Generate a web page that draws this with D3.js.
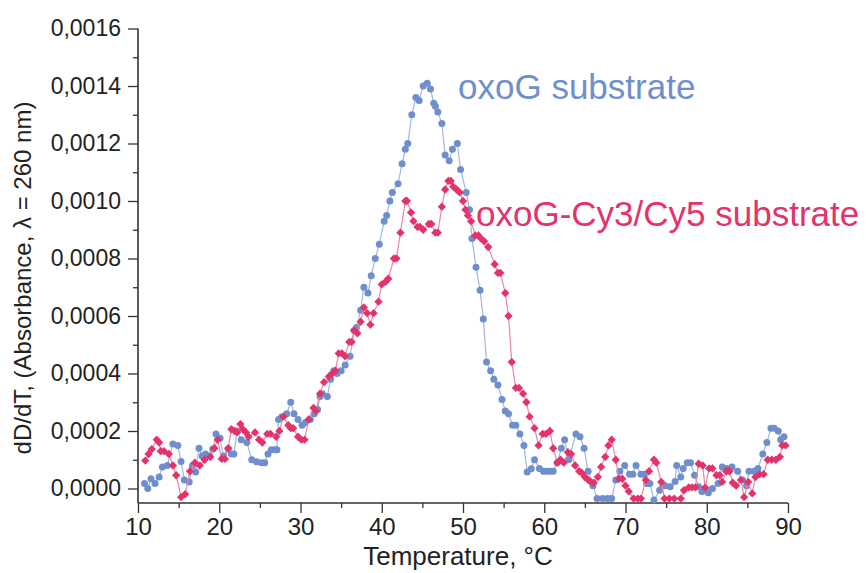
<!DOCTYPE html>
<html><head><meta charset="utf-8">
<script src="https://cdn.jsdelivr.net/npm/d3@7"></script>
<style>
html,body{margin:0;padding:0;background:#fff;}
svg text{font-family:"Liberation Sans",Arial,sans-serif;}
</style></head>
<body><svg id="chart" width="866" height="573"></svg>
<script>
// ---- data ----
const xTicks = [10,20,30,40,50,60,70,80,90];
const yTicks = [0,0.0002,0.0004,0.0006,0.0008,0.0010,0.0012,0.0014,0.0016];
const seriesNames = ["oxoG substrate","oxoG-Cy3/Cy5 substrate"];

const blueT = [10.8,11.2,11.6,12.1,12.6,13.0,13.6,14.3,14.9,15.3,15.7,16.3,16.7,17.1,17.5,17.9,18.3,18.8,19.2,19.6,20.1,20.5,21.1,21.5,21.8,22.2,22.7,23.4,24.0,24.6,25.2,25.6,26.0,26.4,26.8,27.1,27.3,27.7,28.3,28.8,29.2,29.7,30.2,30.6,31.2,31.7,32.1,32.4,32.7,33.3,33.7,34.1,34.5,35.0,35.5,36.1,36.6,36.9,37.4,37.8,38.3,38.7,39.2,39.7,40.3,40.6,41.0,41.3,42.0,42.5,42.9,43.2,43.7,44.2,44.6,45.1,45.6,46.0,46.4,46.6,46.9,47.4,47.8,48.3,48.7,49.3,49.7,50.4,50.8,51.1,51.6,52.1,52.5,52.9,53.4,53.8,54.3,54.8,55.2,55.6,56.1,56.5,57.0,57.5,57.9,58.4,58.8,59.4,59.9,60.3,60.7,61.1,61.6,62.1,62.5,63.0,63.9,64.4,64.9,65.4,66.0,66.5,67.2,67.8,68.3,68.8,69.3,69.9,70.5,70.9,71.3,71.9,72.3,72.6,73.0,73.5,74.2,74.6,74.9,75.5,76.1,76.3,76.8,77.1,77.6,78.0,78.5,79.0,79.4,79.8,80.2,80.7,81.4,81.9,82.5,83.1,83.8,84.4,84.9,85.2,85.8,86.3,86.9,87.4,87.9,88.3,88.8,89.1,89.5];
const blueV = [0.000017,0.000000,0.000034,0.000017,0.000040,0.000075,0.000080,0.000155,0.000150,0.000094,0.000030,0.000023,0.000080,0.000057,0.000140,0.000113,0.000120,0.000113,0.000137,0.000190,0.000175,0.000113,0.000137,0.000120,0.000120,0.000200,0.000170,0.000160,0.000100,0.000093,0.000090,0.000090,0.000120,0.000135,0.000135,0.000135,0.000240,0.000250,0.000260,0.000300,0.000260,0.000240,0.000220,0.000230,0.000240,0.000260,0.000275,0.000320,0.000330,0.000320,0.000380,0.000410,0.000400,0.000410,0.000430,0.000460,0.000550,0.000560,0.000620,0.000700,0.000680,0.000740,0.000800,0.000850,0.000930,0.000950,0.001000,0.001030,0.001060,0.001130,0.001180,0.001200,0.001300,0.001360,0.001350,0.001400,0.001410,0.001390,0.001340,0.001330,0.001310,0.001270,0.001160,0.001140,0.001180,0.001200,0.001110,0.001030,0.000970,0.000870,0.000770,0.000690,0.000590,0.000440,0.000410,0.000380,0.000360,0.000310,0.000270,0.000260,0.000220,0.000220,0.000190,0.000150,0.000057,0.000069,0.000100,0.000070,0.000060,0.000060,0.000060,0.000060,0.000090,0.000140,0.000170,0.000100,0.000190,0.000180,0.000140,0.000060,0.000010,-0.000035,-0.000035,-0.000035,-0.000035,0.000030,0.000060,0.000080,0.000050,0.000050,0.000080,0.000050,0.000050,0.000017,0.000017,-0.000040,-0.000006,0.000010,0.000010,0.000006,0.000024,0.000080,0.000040,0.000070,0.000090,0.000090,0.000046,0.000006,-0.000010,0.000000,-0.000015,0.000000,0.000017,0.000075,0.000070,0.000075,0.000060,0.000030,0.000010,0.000060,0.000060,0.000070,0.000120,0.000160,0.000210,0.000210,0.000200,0.000170,0.000180];

const redT = [10.9,11.3,11.7,12.3,12.6,12.8,13.2,13.8,14.3,14.7,15.3,15.8,16.4,17.0,17.6,18.2,18.9,19.4,19.8,20.3,20.7,21.1,21.5,21.9,22.2,22.6,22.9,23.3,23.6,24.4,24.9,25.3,25.9,26.3,27.0,27.4,27.9,28.5,28.8,29.1,29.7,30.1,30.5,31.0,31.6,31.9,32.4,32.9,33.5,33.9,34.3,34.7,35.1,35.5,36.0,36.3,36.6,37.0,37.4,37.8,38.2,38.6,39.0,39.6,40.0,40.5,40.8,41.5,41.8,42.3,42.9,43.1,43.6,43.9,44.4,44.7,45.1,45.8,46.1,46.6,46.9,47.4,47.8,48.2,48.5,48.8,49.2,49.6,50.0,50.3,50.6,51.0,51.5,51.9,52.2,52.6,53.1,53.9,54.3,54.6,55.2,55.6,56.0,56.5,56.9,57.4,57.8,58.2,58.8,59.3,59.8,60.2,60.7,61.1,61.6,62.0,62.4,62.9,63.3,63.8,64.3,64.6,65.0,65.4,65.7,66.1,66.6,67.0,67.5,67.9,68.3,68.8,69.2,69.6,70.0,70.4,71.0,71.5,71.9,72.5,72.9,73.5,73.8,74.4,74.8,75.4,76.0,76.8,77.2,77.8,78.2,78.6,79.0,79.5,79.8,80.3,80.7,81.2,81.6,81.9,82.4,82.8,83.2,83.6,84.2,84.6,85.1,85.6,86.0,86.5,87.0,87.5,88.0,88.5,89.0,89.3,89.7];
const redV = [0.000097,0.000120,0.000137,0.000170,0.000160,0.000130,0.000130,0.000120,0.000080,0.000046,-0.000030,-0.000020,0.000060,0.000090,0.000080,0.000100,0.000110,0.000140,0.000170,0.000103,0.000103,0.000140,0.000206,0.000200,0.000195,0.000224,0.000206,0.000195,0.000180,0.000195,0.000170,0.000160,0.000190,0.000190,0.000180,0.000200,0.000250,0.000220,0.000210,0.000210,0.000180,0.000170,0.000170,0.000240,0.000280,0.000270,0.000330,0.000370,0.000390,0.000400,0.000410,0.000470,0.000470,0.000460,0.000510,0.000510,0.000550,0.000540,0.000580,0.000630,0.000610,0.000570,0.000610,0.000650,0.000710,0.000720,0.000730,0.000800,0.000800,0.000890,0.001000,0.001000,0.000960,0.000930,0.000910,0.000910,0.000900,0.000920,0.000920,0.000890,0.000890,0.000980,0.001040,0.001070,0.001070,0.001050,0.001040,0.001030,0.001000,0.000970,0.000950,0.000930,0.000880,0.000880,0.000870,0.000860,0.000840,0.000780,0.000750,0.000750,0.000680,0.000600,0.000440,0.000350,0.000350,0.000330,0.000300,0.000250,0.000210,0.000150,0.000190,0.000190,0.000200,0.000140,0.000090,0.000100,0.000090,0.000126,0.000120,0.000080,0.000060,0.000055,0.000040,0.000030,0.000024,0.000020,0.000040,0.000075,0.000110,0.000150,0.000170,0.000100,0.000034,0.000034,0.000010,-0.000010,-0.000035,-0.000035,-0.000035,0.000030,0.000060,0.000100,0.000090,0.000023,-0.000035,-0.000035,-0.000035,-0.000035,-0.000006,0.000004,0.000004,0.000004,0.000086,0.000080,0.000003,0.000070,0.000070,0.000046,0.000046,0.000023,0.000060,0.000060,0.000020,0.000010,0.000030,-0.000030,0.000023,-0.000017,0.000040,0.000050,0.000050,0.000100,0.000100,0.000100,0.000110,0.000150,0.000150];

// ---- drawing ----
const svg = d3.select("#chart");
const plotLeft = 138, plotRight = 788, plotTop = 28.5, zeroY = 488.5, bottomY = 503;
const x = d3.scaleLinear().domain([10,90]).range([plotLeft,plotRight]);
const y = d3.scaleLinear().domain([0,0.0016]).range([zeroY,plotTop]);
const yMin = y.invert(bottomY);

const axisColor = "#333";
const fmt = v => d3.format(".4f")(v).replace(".", ",");

// Y axis
const yAxis = svg.append("g").attr("transform",`translate(${plotLeft},0)`)
  .call(d3.axisLeft(y).tickValues(yTicks).tickFormat(fmt).tickSize(10).tickSizeOuter(0).tickPadding(7));
yAxis.select(".domain").remove();
yAxis.selectAll("line").attr("stroke",axisColor).attr("stroke-width",1.3);
yAxis.selectAll("text").attr("font-size",23).attr("fill","#222");
const yMinor = svg.append("g").attr("transform",`translate(${plotLeft},0)`)
  .call(d3.axisLeft(y).tickValues(yTicks.slice(0,-1).map((v,i)=>(v+yTicks[i+1])/2)).tickFormat("").tickSize(5).tickSizeOuter(0));
yMinor.select(".domain").remove();
yMinor.selectAll("line").attr("stroke",axisColor).attr("stroke-width",1.3);
svg.append("line").attr("x1",plotLeft).attr("x2",plotLeft).attr("y1",y(0.0016)).attr("y2",y(yMin))
  .attr("stroke",axisColor).attr("stroke-width",1.6);

// X axis
const xAxis = svg.append("g").attr("transform",`translate(0,${bottomY})`)
  .call(d3.axisBottom(x).tickValues(xTicks).tickSize(10).tickSizeOuter(0).tickPadding(5));
xAxis.select(".domain").remove();
xAxis.selectAll("line").attr("stroke",axisColor).attr("stroke-width",1.3);
xAxis.selectAll("text").attr("font-size",24).attr("fill","#222");
const xMinor = svg.append("g").attr("transform",`translate(0,${bottomY})`)
  .call(d3.axisBottom(x).tickValues(xTicks.slice(0,-1).map((v,i)=>(v+xTicks[i+1])/2)).tickFormat("").tickSize(5).tickSizeOuter(0));
xMinor.select(".domain").remove();
xMinor.selectAll("line").attr("stroke",axisColor).attr("stroke-width",1.3);
svg.append("line").attr("x1",x(10)).attr("x2",x(90)).attr("y1",bottomY).attr("y2",bottomY)
  .attr("stroke",axisColor).attr("stroke-width",1.6);

// Titles
svg.append("text").attr("x",458).attr("y",565).attr("text-anchor","middle")
  .attr("font-size",26).attr("fill","#222").text("Temperature, °C");
svg.append("text").attr("transform","translate(31,278) rotate(-90)").attr("text-anchor","middle")
  .attr("font-size",24).attr("fill","#222").text("dD/dT, (Absorbance, λ = 260 nm)");

// Series
const blueColor = "#6f8fcc", redColor = "#e3336a";
const line = d3.line().x(d=>x(d[0])).y(d=>y(d[1]));
const blueData = blueT.map((t,i)=>[t,blueV[i]]);
const redData = redT.map((t,i)=>[t,redV[i]]);

svg.append("path").datum(blueData).attr("d",line).attr("fill","none")
  .attr("stroke","#a3b6de").attr("stroke-width",1.2);
svg.append("g").selectAll("circle").data(blueData).join("circle")
  .attr("cx",d=>x(d[0])).attr("cy",d=>y(d[1])).attr("r",3.5).attr("fill",blueColor);

svg.append("path").datum(redData).attr("d",line).attr("fill","none")
  .attr("stroke","#ee85a3").attr("stroke-width",1.2);
const diamond = d3.symbol().type(d3.symbolDiamond2).size(44);
svg.append("g").selectAll("path").data(redData).join("path")
  .attr("d",diamond).attr("transform",d=>`translate(${x(d[0])},${y(d[1])})`).attr("fill",redColor);

// Series labels
svg.append("text").attr("x",458).attr("y",99).attr("font-size",35).attr("fill",blueColor).text(seriesNames[0]);
svg.append("text").attr("x",476).attr("y",226).attr("font-size",35).attr("fill",redColor).text(seriesNames[1]);
</script></body></html>
